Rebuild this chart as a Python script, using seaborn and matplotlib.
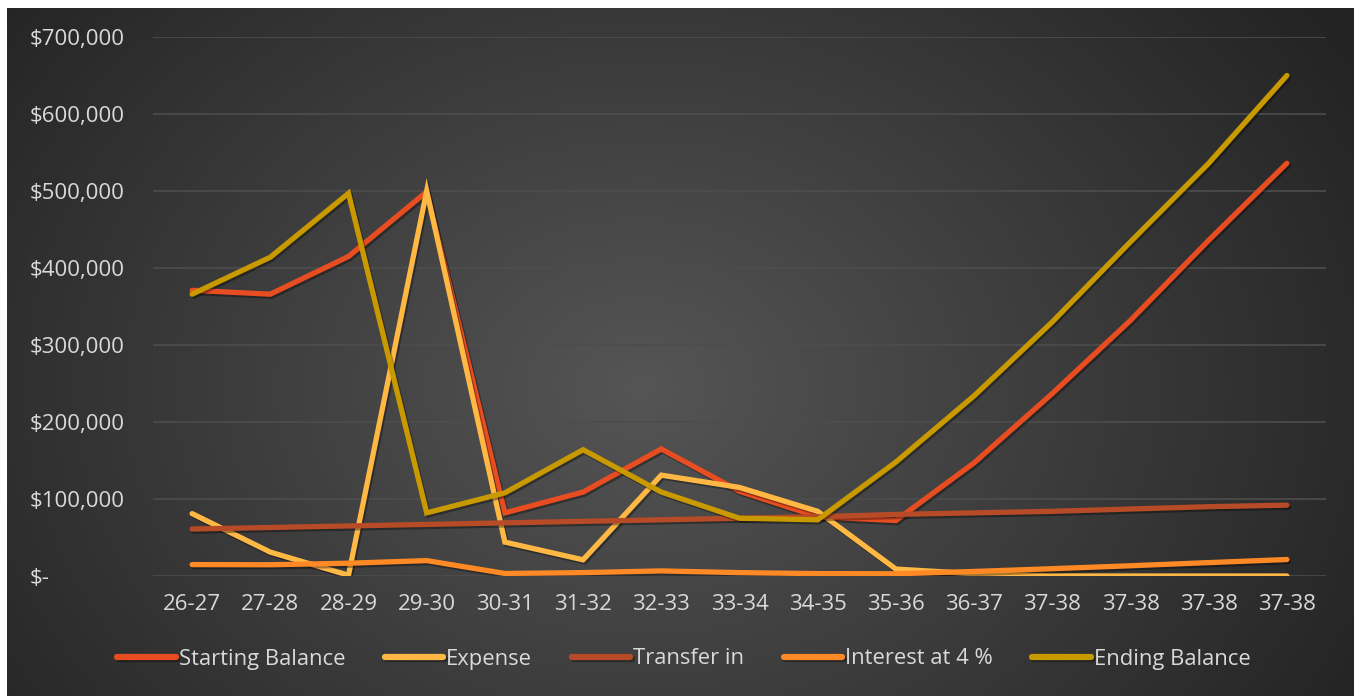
import numpy as np
import pandas as pd
import matplotlib
matplotlib.use("Agg")
import matplotlib.pyplot as plt
import matplotlib.patheffects as pe
import seaborn as sns

categories = ["26-27", "27-28", "28-29", "29-30", "30-31", "31-32", "32-33", "33-34",
              "34-35", "35-36", "36-37", "37-38", "37-38", "37-38", "37-38"]
starting_balance = [371000, 366000, 415000, 499000, 82000, 109000, 165000, 110000,
                    77000, 72000, 147000, 237000, 332000, 436000, 536000]
expense = [81000, 31000, 1000, 500000, 44000, 21000, 131000, 115000,
           84000, 9000, 3000, 0, 0, 0, 0]
transfer_in = [61000, 63000, 65000, 67000, 69000, 71000, 73000, 75000,
               77000, 80000, 82000, 84000, 87000, 90000, 92000]
interest = [14800, 14600, 16600, 20000, 3300, 4400, 6600, 4400,
            3100, 2900, 5900, 9500, 13300, 17400, 21400]
ending_balance = [366000, 414000, 497000, 82000, 108000, 164000, 109000, 75000,
                  73000, 148000, 234000, 330000, 434000, 536000, 650000]

series_names = ["Starting Balance", "Expense", "Transfer in", "Interest at 4 %", "Ending Balance"]
series_values = [starting_balance, expense, transfer_in, interest, ending_balance]
colors = ["#E84D22", "#FFB844", "#B74A27", "#FF8925", "#C99A00"]

rows = []
for name, vals in zip(series_names, series_values):
    for i, v in enumerate(vals):
        rows.append({"pos": i, "value": v, "series": name})
df = pd.DataFrame(rows)

sns.set_theme(style="white")
plt.rcParams['font.family'] = ['Open Sans', 'DejaVu Sans']

W, H = 1360, 696
fig = plt.figure(figsize=(W / 100, H / 100), dpi=100, facecolor="white")

# background panel with radial gradient
bg = fig.add_axes([7 / W, 0, (1354 - 7) / W, (696 - 8) / H])
bg.set_axis_off()
ny, nx = 344, 674
yy, xx = np.mgrid[0:ny, 0:nx]
cx, cy = nx * 0.47, ny * 0.55
r = np.sqrt(((xx - cx) / (nx * 0.62)) ** 2 + ((yy - cy) / (ny * 0.95)) ** 2)
r = np.clip(r, 0, 1)
inner = np.array([0x55, 0x55, 0x55]) / 255
outer = np.array([0x23, 0x23, 0x23]) / 255
img = inner[None, None, :] * (1 - r[..., None]) + outer[None, None, :] * r[..., None]
bg.imshow(img, aspect="auto", extent=[0, 1, 0, 1], interpolation="bicubic")
bg.set_xlim(0, 1)
bg.set_ylim(0, 1)

ax = fig.add_axes([153 / W, 1 - 576 / H, (1326 - 153) / W, (576 - 37) / H])
ax.set_facecolor("none")

sns.lineplot(data=df, x="pos", y="value", hue="series", hue_order=series_names,
             palette=colors, linewidth=3.8, sort=False, ax=ax, legend=True)

for ln in ax.lines:
    ln.set_solid_capstyle("round")
    ln.set_solid_joinstyle("miter")
    ln.set_path_effects([pe.SimpleLineShadow(offset=(1.2, -1.5), shadow_color="black", alpha=0.35),
                         pe.Normal()])

ax.set_xlim(-0.5, len(categories) - 0.5)
ax.set_ylim(0, 700000)
ax.set_xticks(range(len(categories)))
ax.set_xticklabels(categories)
yt = list(range(0, 700001, 100000))
ax.set_yticks(yt)
ax.set_yticklabels(["$-" if v == 0 else f"${v:,.0f}" for v in yt])
for lab in ax.get_yticklabels():
    lab.set_horizontalalignment("left")
ax.tick_params(axis="y", length=0, pad=88.5, labelsize=16, labelcolor="#D9D9D9")
ax.tick_params(axis="x", length=0, pad=13, labelsize=16, labelcolor="#D9D9D9")
ax.grid(axis="y", color="#4D4D4D", linewidth=1.2)
ax.grid(axis="x", visible=False)
ax.set_axisbelow(True)
for s in ax.spines.values():
    s.set_visible(False)
ax.set_xlabel("")
ax.set_ylabel("")

handles, labels = ax.get_legend_handles_labels()
if ax.get_legend() is not None:
    ax.get_legend().remove()
for h in handles:
    h.set_linewidth(4.5)
    h.set_solid_capstyle("round")
leg = fig.legend(handles, labels, loc="center", bbox_to_anchor=(0.503, 1 - 659 / H), ncol=5,
                 frameon=False, handlelength=2.65, handletextpad=0.15, columnspacing=1.8,
                 fontsize=15.8)
for t in leg.get_texts():
    t.set_color("#D9D9D9")

fig.savefig("out.png", dpi=100, facecolor="white")
